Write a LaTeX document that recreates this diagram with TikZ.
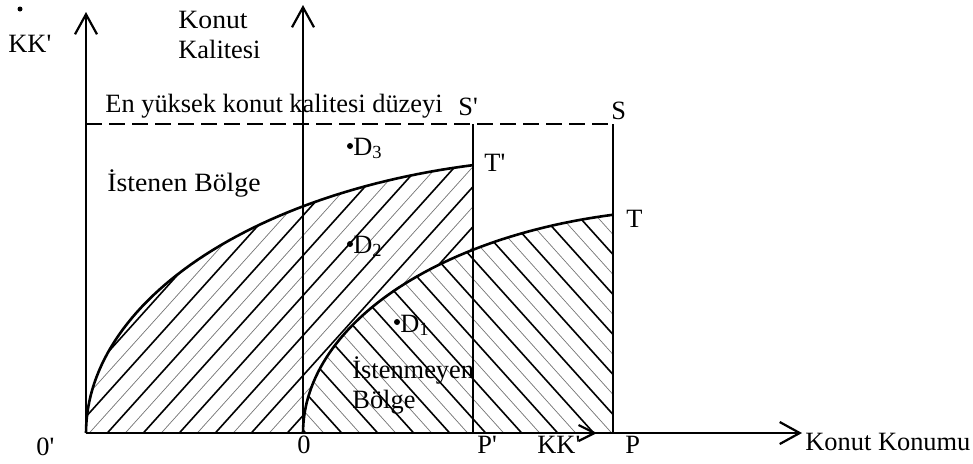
\documentclass[tikz,border=0pt]{standalone}
\usepackage{fontspec}
\setmainfont{Liberation Serif}
\usetikzlibrary{arrows.meta}
\newcommand{\pr}{\textquotesingle}
\begin{document}
\begin{tikzpicture}[x=0.5pt,y=-0.5pt,
  lbl/.style={anchor=base west,inner sep=0pt,font=\fontsize{13.2}{15}\selectfont},
  axis/.style={line width=1.1pt,-{Straight Barb[length=10pt,width=11pt]}},
  kkarrow/.style={line width=1.1pt,-{Straight Barb[length=8pt,width=8pt]}},
  bound/.style={line width=1.1pt},
  curve/.style={line width=1.3pt},
  topline/.style={line width=1pt,dash pattern=on 8pt off 3.5pt},
  hthick/.style={line width=0.8pt},
  hthin/.style={line width=0.35pt,black!55},
  dot/.style={circle,fill,inner sep=0pt,minimum size=3pt}]
\useasboundingbox (0,0) rectangle (973,463);
\coordinate (O1) at (86,433);
\coordinate (O) at (303,433);
\coordinate (Pp) at (473,433);
\coordinate (P) at (613,433);
\coordinate (Sp) at (473,124);
\coordinate (S) at (613,124);
\coordinate (L) at (86,124);
\coordinate (Ytop1) at (86,12);
\coordinate (Ytop2) at (303,5);
\coordinate (Xend) at (802,433);
\coordinate (KKa) at (545,433);
\coordinate (KKb) at (597,433);
% hatch "/" in the desired region
\begin{scope}
\clip (O1) -- plot[domain=0:76.94,samples=60] ({586-500*cos(\x)},{433-275*sin(\x)}) -- (Pp) -- cycle;
\foreach \c in {-340,-304,...,480} \draw[hthick] (\c,450) -- ++(405,-450);
\foreach \c in {-322,-286,...,480} \draw[hthin] (\c,450) -- ++(405,-450);
\end{scope}
% undesired region
\fill[white] (O) -- plot[domain=0:77,samples=60] ({703-400*cos(\x)},{433-224*sin(\x)}) -- (P) -- cycle;
\begin{scope}
\clip (O) -- plot[domain=0:77,samples=60] ({703-400*cos(\x)},{433-224*sin(\x)}) -- (P) -- cycle;
\foreach \c in {-120,-84,...,640} \draw[hthick] (\c,0) -- ++(405,450);
\foreach \c in {-102,-66,...,640} \draw[hthin] (\c,0) -- ++(405,450);
\end{scope}
% curves
\draw[curve] plot[domain=0:76.94,samples=60] ({586-500*cos(\x)},{433-275*sin(\x)});
\draw[curve] plot[domain=0:77,samples=60] ({703-400*cos(\x)},{433-224*sin(\x)});
% axes and lines
\draw[axis] (O1) -- (Ytop1);
\draw[axis] (O) -- (Ytop2);
\draw[axis] (O1) -- (Xend);
\draw[topline] (L) -- (S);
\draw[bound] (Sp) -- (Pp);
\draw[bound] (S) -- (P);
\draw[kkarrow] (KKa) -- (KKb);
% dots
\node[dot,minimum size=2.5pt] (stray) at (20,9) {};
\node[dot] (d3) at (350,146) {};
\node[dot] (d2) at (350,244) {};
\node[dot] (d1) at (397,322) {};
% labels
\node[lbl] (kk) at (8,52) {KK\pr};
\node[lbl] (konut) at (178,28) {\scalebox{1.05}[1]{Konut}};
\node[lbl] (kal) at (178,58) {Kalitesi};
\node[lbl] (eny) at (105,112) {En yüksek konut kalitesi düzeyi};
\node[lbl] (lSp) at (458,115) {S\pr};
\node[lbl] (lS) at (611,119) {S};
\node[lbl] (lTp) at (484,171) {T\pr};
\node[lbl] (lT) at (626,227) {T};
\node[lbl] (lD3) at (353,155) {D\textsubscript{3}};
\node[lbl] (lD2) at (353,253) {D\textsubscript{2}};
\node[lbl] (lD1) at (400,332) {D\textsubscript{1}};
\node[lbl] (ist) at (107,191) {\scalebox{1.05}[1]{İstenen Bölge}};
\node[lbl] (istm) at (352,378) {İstenmeyen};
\node[lbl] (bol) at (352,408) {Bölge};
\node[lbl] (l01) at (36,455) {0\pr};
\node[lbl] (l0) at (297,453) {0};
\node[lbl] (lPp) at (477,453) {P\pr};
\node[lbl] (lKK) at (537,453) {KK\pr};
\node[lbl] (lP) at (625,453) {P};
\node[lbl] (lX) at (805,450) {Konut Konumu};
\end{tikzpicture}
\end{document}
